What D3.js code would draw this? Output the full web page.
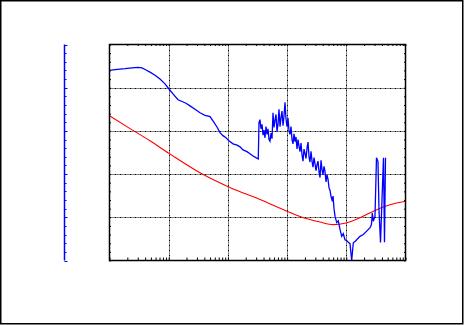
<!DOCTYPE html>
<html>
<head>
<meta charset="utf-8">
<script src="https://cdn.jsdelivr.net/npm/d3@7"></script>
<style>
html,body{margin:0;padding:0;background:#fff;}
svg{display:block;}
</style>
</head>
<body>
<svg id="chart" width="464" height="325"></svg>
<script>
// ---- data ----
const xDomain = [1, 100000];
const yDomain = [0, 50];
const gridXValues = [10, 100, 1000, 10000];
const gridYValues = [10, 20, 30, 40];

const blueX = [1, 1.24, 1.83, 2.40, 3.03, 3.54, 4.14, 4.83, 5.87, 7.13, 8.66, 10.1, 12.3, 14.4, 16.8, 19.6, 22.9, 27.8, 33.8, 41.0, 49.9, 56.0, 65.4, 73.6, 82.6, 92.9, 104, 122, 143, 160, 180, 210, 236, 266, 298, 326,
  335, 348, 362, 377, 392, 407, 423, 440, 458, 476, 495, 514, 535, 556, 578, 601, 625, 650, 675, 702,
  730, 759, 789, 820, 853, 887, 922, 958, 996, 1036, 1077, 1120, 1164, 1210, 1258, 1308, 1360, 1414, 1470, 1529,
  1589, 1652, 1718, 1786, 1857, 1931, 2007, 2087, 2170, 2256, 2345, 2438, 2535, 2636, 2740, 2849, 2962, 3080, 3202, 3329,
  3461, 3598, 3741, 3890, 4044, 4205, 4371, 4545, 4725, 4913, 5108, 5310, 5521, 5740, 5968, 6205, 6451,
  6886, 7330, 7834, 8363, 8898, 9506, 10160, 10810, 11550, 12340, 13130, 14030, 14990, 17030, 19370, 22110, 25140, 26600, 27500, 28580, 30520, 32350, 34280, 35650, 37830, 40090, 42480, 44180, 45930];
const blueY = [44.0, 44.2, 44.4, 44.6, 44.7, 44.6, 44.1, 43.6, 42.9, 42.0, 40.9, 39.7, 38.3, 37.2, 36.8, 36.4, 35.8, 35.0, 34.2, 33.6, 33.3, 32.3, 30.9, 29.6, 28.9, 28.4, 27.7, 27.0, 26.7, 26.3, 25.6, 25.2, 24.7, 24.2, 23.8, 23.5,
  31.9, 32.6, 30.5, 31.5, 29.0, 30.2, 28.4, 31.0, 29.2, 30.5, 28.0, 27.6, 29.5, 28.2, 34.2, 30.8, 32.5, 33.8, 29.8, 31.5,
  35.0, 31.0, 33.0, 34.6, 31.2, 33.5, 36.6, 32.8, 31.0, 33.0, 30.0, 29.2, 31.0, 28.0, 27.0, 29.3, 27.5, 28.6, 25.8, 28.0,
  26.5, 25.2, 27.2, 24.5, 23.0, 25.8, 24.8, 23.6, 26.0, 27.4, 24.0, 22.8, 25.3, 23.0, 21.6, 23.8, 22.4, 20.8, 22.2, 23.0,
  20.5, 19.2, 23.2, 21.0, 19.8, 21.8, 20.6, 18.2, 19.9, 18.8, 16.8, 16.2, 14.8, 14.0, 14.9, 12.0, 10.2,
  8.8, 9.2, 7.2, 5.6, 6.2, 4.8, 4.6, 4.2, 3.9, 0, 4.1, 4.4, 4.8, 5.6, 6.0, 6.8, 7.6, 8.3, 11.0, 9.1, 10.2, 23.8, 22.9, 11.8, 4.2, 14.1, 23.8, 4.2, 23.8];

const redX = [1, 2.37, 4.83, 10.1, 33.8, 108, 349, 1119, 1651, 3595, 5959, 9885, 17030, 30520, 54700, 100000];
const redY = [33.5, 30.3, 27.7, 24.8, 20.3, 16.9, 14.1, 11.1, 10.2, 8.9, 8.3, 8.7, 9.9, 11.6, 12.9, 13.7];

// ---- drawing ----
const svg = d3.select("#chart");
const pL = 109.5, pR = 405.5, pT = 44.5, pB = 260.5;
const x = d3.scaleLog().domain(xDomain).range([pL, pR]);
const y = d3.scaleLinear().domain(yDomain).range([pB, pT]);

// outer border
svg.append("rect").attr("x", 0.75).attr("y", 0.75).attr("width", 462).attr("height", 323)
  .attr("fill", "none").attr("stroke", "#000").attr("stroke-width", 1.5);

// grid
const grid = svg.append("g").attr("stroke", "#000").attr("stroke-width", 1).attr("stroke-dasharray", "2,1,1,1");
grid.selectAll("line.gx").data(gridXValues).enter().append("line")
  .attr("x1", d => Math.round(x(d)) + 0.5).attr("x2", d => Math.round(x(d)) + 0.5)
  .attr("y1", pT).attr("y2", pB);
grid.selectAll("line.gy").data(gridYValues).enter().append("line")
  .attr("y1", d => Math.round(y(d)) + 0.5).attr("y2", d => Math.round(y(d)) + 0.5)
  .attr("x1", pL).attr("x2", pR);

// axes ticks (no labels)
const minorY = d3.range(yDomain[0], yDomain[1] + 0.001, 2);
function styleAxis(g, color) {
  g.select(".domain").remove();
  g.selectAll("text").remove();
  g.selectAll(".tick line").attr("stroke", color);
}
svg.append("g").attr("transform", `translate(0,${pB})`)
  .call(d3.axisBottom(x).tickSizeInner(-3).tickSizeOuter(0).tickFormat(""))
  .call(g => styleAxis(g, "#000"));
svg.append("g").attr("transform", `translate(0,${pT})`)
  .call(d3.axisTop(x).tickSizeInner(-1.5).tickSizeOuter(0).tickFormat(""))
  .call(g => styleAxis(g, "#000"));
svg.append("g").attr("transform", `translate(${pL},0)`)
  .call(d3.axisLeft(y).tickValues(minorY).tickSizeInner(-1.5).tickSizeOuter(0).tickFormat(""))
  .call(g => styleAxis(g, "#000"));
svg.append("g").attr("transform", `translate(${pR},0)`)
  .call(d3.axisRight(y).tickValues(minorY).tickSizeInner(-1.5).tickSizeOuter(0).tickFormat(""))
  .call(g => styleAxis(g, "#000"));

// clip
svg.append("clipPath").attr("id", "clip").append("rect")
  .attr("x", pL).attr("y", pT).attr("width", pR - pL).attr("height", pB - pT);

// red curve
const redData = redX.map((d, i) => [d, redY[i]]);
svg.append("path").datum(redData)
  .attr("clip-path", "url(#clip)")
  .attr("fill", "none").attr("stroke", "#ff0000").attr("stroke-width", 1.1)
  .attr("d", d3.line().x(d => x(d[0])).y(d => y(d[1])).curve(d3.curveMonotoneX));

// blue curve
const blueData = blueX.map((d, i) => [d, blueY[i]]);
svg.append("path").datum(blueData)
  .attr("clip-path", "url(#clip)")
  .attr("fill", "none").attr("stroke", "#0000ff").attr("stroke-width", 1.3)
  .attr("d", d3.line().x(d => x(d[0])).y(d => y(d[1])));

// frame
svg.append("rect").attr("x", pL).attr("y", pT).attr("width", pR - pL).attr("height", pB - pT)
  .attr("fill", "none").attr("stroke", "#000").attr("stroke-width", 1.5);

// secondary blue axis (offset, no labels)
const blueAxisX = 64.5;
const ba = svg.append("g").attr("transform", `translate(${blueAxisX},0)`);
ba.append("line").attr("x1", 0).attr("x2", 0).attr("y1", pT).attr("y2", pB)
  .attr("stroke", "#0000ff").attr("stroke-width", 1.5);
ba.selectAll("line.t").data(minorY).enter().append("line")
  .attr("x1", 0).attr("x2", d => (d % 10 === 0 ? 3 : 2))
  .attr("y1", d => Math.round(y(d)) + 0.5).attr("y2", d => Math.round(y(d)) + 0.5)
  .attr("stroke", "#0000ff").attr("stroke-width", 1);
</script>
</body>
</html>
